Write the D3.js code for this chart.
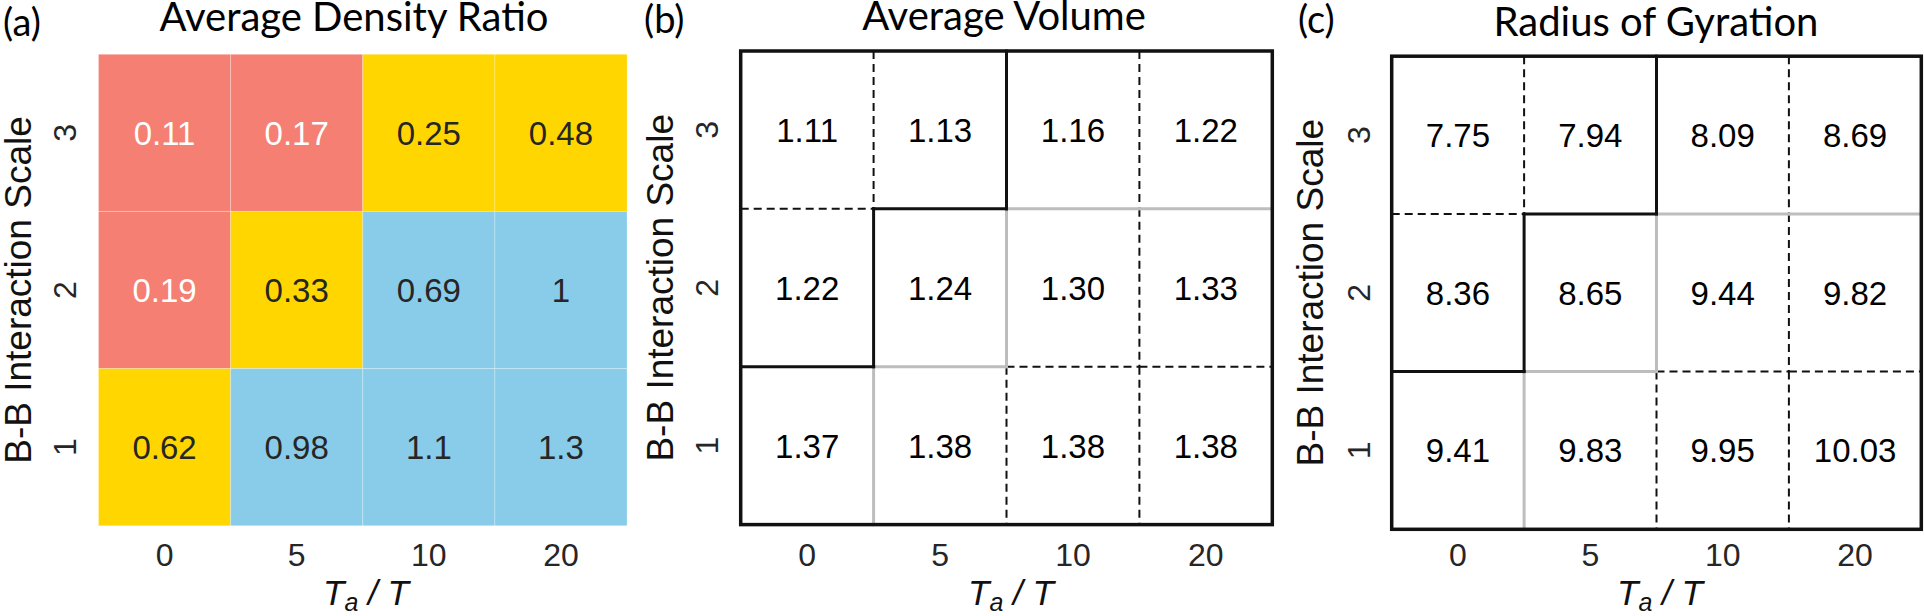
<!DOCTYPE html>
<html>
<head>
<meta charset="utf-8">
<script src="https://cdn.jsdelivr.net/npm/d3@7"></script>
<style>
  html, body { margin: 0; padding: 0; background: #ffffff; }
  svg { display: block; }
</style>
</head>
<body>
<svg id="chart" width="1924" height="616"></svg>
<script>
// ---------------- data ----------------
const taLabels = ["0", "5", "10", "20"];          // x categories (T_a / T)
const bbLabels = ["3", "2", "1"];                 // y categories (top -> bottom)

const densityRatio = [
  [0.11, 0.17, 0.25, 0.48],
  [0.19, 0.33, 0.69, 1],
  [0.62, 0.98, 1.1, 1.3]
];
const averageVolume = [
  [1.11, 1.13, 1.16, 1.22],
  [1.22, 1.24, 1.30, 1.33],
  [1.37, 1.38, 1.38, 1.38]
];
const radiusOfGyration = [
  [7.75, 7.94, 8.09, 8.69],
  [8.36, 8.65, 9.44, 9.82],
  [9.41, 9.83, 9.95, 10.03]
];
// phase of each cell: 0 = red, 1 = yellow, 2 = blue
const phase = [
  [0, 0, 1, 1],
  [0, 1, 2, 2],
  [1, 2, 2, 2]
];
const phaseColors = ["#F47F72", "#FFD600", "#89CCE9"];
const titles = ["Average Density Ratio", "Average Volume", "Radius of Gyration"];
const panelTags = ["(a)", "(b)", "(c)"];

// ---------------- layout ----------------
const panels = [
  { x0: 98.5,  x1: 627,    y0: 54.3, y1: 525.7, titleX: 354,  titleY: 31, tagX: 3,    tagY: 36, yLabX: 18,  yTickX: 64,   xLabX: 366,  values: densityRatio,    fmt: d => String(d), heat: true },
  { x0: 740.7, x1: 1272.3, y0: 51,   y1: 524.6, titleX: 1004, titleY: 30, tagX: 644,  tagY: 33, yLabX: 660, yTickX: 706,  xLabX: 1011, values: averageVolume,   fmt: d => d.toFixed(2), heat: false },
  { x0: 1391.7,x1: 1921.3, y0: 56.2, y1: 529.3, titleX: 1656, titleY: 36, tagX: 1298, tagY: 33, yLabX: 1310,yTickX: 1358, xLabX: 1660, values: radiusOfGyration, fmt: d => d.toFixed(2), heat: false }
];

const numFont = "'Liberation Sans', Arial, sans-serif";
const titleFont = "Lato, 'Open Sans', sans-serif";
const tickBaseline = 566.5;
const tickFs = 32, valueFs = 33;

const svg = d3.select("#chart");

panels.forEach((p, pi) => {
  const x = d3.scaleBand().domain(taLabels).range([p.x0, p.x1]).padding(0);
  const y = d3.scaleBand().domain(bbLabels).range([p.y0, p.y1]).padding(0);
  const g = svg.append("g");

  const cells = [];
  bbLabels.forEach((r, ri) => taLabels.forEach((c, ci) => {
    cells.push({ r, c, ri, ci, v: p.values[ri][ci], ph: phase[ri][ci] });
  }));

  // cells
  g.selectAll("rect.cell").data(cells).join("rect")
    .attr("class", "cell")
    .attr("x", d => x(d.c)).attr("y", d => y(d.r))
    .attr("width", x.bandwidth()).attr("height", y.bandwidth())
    .attr("fill", d => p.heat ? phaseColors[d.ph] : "#ffffff")
    .attr("stroke", p.heat ? "#ffffff" : "none")
    .attr("stroke-opacity", 0.25)
    .attr("stroke-width", 1);

  if (!p.heat) {
    // internal boundary segments, styled by the phases on each side
    const segs = [];
    bbLabels.forEach((r, ri) => {
      for (let ci = 1; ci < taLabels.length; ci++) {
        const xx = x(taLabels[ci]);
        segs.push({ x1: xx, x2: xx, y1: y(r), y2: y(r) + y.bandwidth(), a: phase[ri][ci - 1], b: phase[ri][ci] });
      }
    });
    taLabels.forEach((c, ci) => {
      for (let ri = 1; ri < bbLabels.length; ri++) {
        const yy = y(bbLabels[ri]);
        segs.push({ x1: x(c), x2: x(c) + x.bandwidth(), y1: yy, y2: yy, a: phase[ri - 1][ci], b: phase[ri][ci] });
      }
    });
    const kind = s => s.a === s.b ? 0 : (Math.min(s.a, s.b) === 0 ? 2 : 1); // 0 dashed, 1 gray, 2 black
    segs.forEach(s => s.k = kind(s));
    segs.sort((a, b) => a.k - b.k);
    g.selectAll("line.seg").data(segs).join("line")
      .attr("class", "seg")
      .attr("x1", d => d.x1).attr("x2", d => d.x2)
      .attr("y1", d => d.y1).attr("y2", d => d.y2)
      .attr("stroke", d => d.k === 1 ? "#BDBDBD" : "#111111")
      .attr("stroke-width", d => d.k === 0 ? 2 : 3)
      .attr("stroke-dasharray", d => d.k === 0 ? "8,5" : null)
      .attr("stroke-linecap", d => d.k === 0 ? "butt" : "square");
    // outer border
    g.append("rect")
      .attr("x", p.x0).attr("y", p.y0)
      .attr("width", p.x1 - p.x0).attr("height", p.y1 - p.y0)
      .attr("fill", "none").attr("stroke", "#111111").attr("stroke-width", 3.5);
  }

  // cell values
  g.selectAll("text.val").data(cells).join("text")
    .attr("class", "val")
    .attr("x", d => x(d.c) + x.bandwidth() / 2)
    .attr("y", d => y(d.r) + y.bandwidth() / 2)
    .attr("dy", "0.36em")
    .attr("text-anchor", "middle")
    .attr("font-family", numFont)
    .attr("font-size", valueFs)
    .attr("fill", d => p.heat ? (d.ph === 0 ? "#ffffff" : "#262626") : "#000000")
    .text(d => p.fmt(d.v));

  // x axis (tick labels only)
  const pad = tickBaseline - p.y1 - 0.71 * tickFs;
  const xAxis = g.append("g").attr("transform", `translate(0,${p.y1})`)
    .call(d3.axisBottom(x).tickSize(0).tickPadding(pad));
  xAxis.select(".domain").remove();
  xAxis.selectAll("text").attr("font-family", numFont).attr("font-size", tickFs).attr("fill", "#262626");

  // y axis (rotated tick labels)
  const yAxis = g.append("g").attr("transform", `translate(${p.x0},0)`)
    .call(d3.axisLeft(y).tickSize(0));
  yAxis.select(".domain").remove();
  yAxis.selectAll("text")
    .attr("x", 0).attr("y", 0).attr("dy", "0.36em")
    .attr("text-anchor", "middle")
    .attr("transform", `translate(${p.yTickX - p.x0},0) rotate(-90)`)
    .attr("font-family", numFont).attr("font-size", tickFs).attr("fill", "#262626");

  // y axis label
  g.append("text")
    .attr("transform", `translate(${p.yLabX},${(p.y0 + p.y1) / 2}) rotate(-90)`)
    .attr("dy", "0.36em")
    .attr("text-anchor", "middle")
    .attr("font-family", numFont).attr("font-size", 37).attr("fill", "#111111")
    .text("B-B Interaction Scale");

  // x axis label: T_a / T
  const xl = g.append("text")
    .attr("x", p.xLabX).attr("y", 605)
    .attr("text-anchor", "middle")
    .attr("font-family", numFont).attr("font-size", 35).attr("fill", "#111111")
    .attr("font-style", "italic");
  xl.append("tspan").text("T");
  xl.append("tspan").attr("font-size", 25).attr("dy", 6).text("a");
  xl.append("tspan").attr("dy", -6).text(" / T");

  // title
  g.append("text")
    .attr("x", p.titleX).attr("y", p.titleY)
    .attr("text-anchor", "middle")
    .attr("font-family", titleFont).attr("font-size", 40).attr("fill", "#000000")
    .text(titles[pi]);

  // panel tag
  g.append("text")
    .attr("x", p.tagX).attr("y", p.tagY)
    .attr("font-family", titleFont).attr("font-size", 38).attr("fill", "#000000")
    .text(panelTags[pi]);
});
</script>
</body>
</html>
